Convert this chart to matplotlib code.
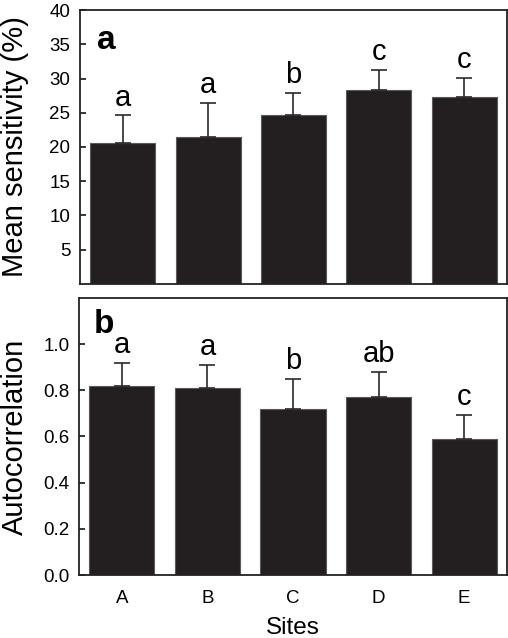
import numpy as np
import matplotlib
matplotlib.use("Agg")
import matplotlib.pyplot as plt

plt.rcParams['font.family'] = ['Liberation Sans', 'DejaVu Sans']

# data
sites = ['A', 'B', 'C', 'D', 'E']
sens_mean = [20.6, 21.5, 24.6, 28.35, 27.3]
sens_err = [4.0, 4.9, 3.3, 2.95, 2.8]
sens_letters = ['a', 'a', 'b', 'c', 'c']
auto_mean = [0.82, 0.81, 0.72, 0.77, 0.59]
auto_err = [0.10, 0.10, 0.13, 0.11, 0.105]
auto_letters = ['a', 'a', 'b', 'ab', 'c']

bar_color = '#231f20'
x = np.arange(len(sites))

fig = plt.figure(figsize=(5.08, 6.38), dpi=100)
ax1 = fig.add_axes([0.1575, 0.5549, 0.8405, 0.4294])
ax2 = fig.add_axes([0.1555, 0.0987, 0.8425, 0.4343])


def draw_panel(ax, means, errs, letters):
    zeros = np.zeros(len(means))
    ax.bar(x, means, width=0.76, color=bar_color, edgecolor='#5a5a5a', linewidth=0.8,
           yerr=[zeros, errs], capsize=6,
           error_kw=dict(ecolor='#2a2a2a', elinewidth=1.2, capthick=1.2))
    for xi, m, e, lab in zip(x, means, errs, letters):
        ax.annotate(lab, (xi, m + e), xytext=(0, 7), textcoords='offset points',
                    ha='center', va='baseline', fontsize=21)
    ax.set_xlim(-0.5, 4.5)
    for s in ax.spines.values():
        s.set_linewidth(1.3)
        s.set_color('#222222')
    ax.tick_params(axis='y', direction='in', length=4, width=1.1, pad=7, labelsize=13.5)


draw_panel(ax1, sens_mean, sens_err, sens_letters)
ax1.set_ylim(0, 40)
ax1.set_yticks(np.arange(5, 41, 5))
ax1.set_xticks([])
ax1.set_ylabel('Mean sensitivity (%)', fontsize=21)
ax1.yaxis.set_label_coords(-0.12, 0.5)
ax1.text(0.04, 0.858, 'a', transform=ax1.transAxes, fontsize=24, fontweight='bold',
         va='baseline')

draw_panel(ax2, auto_mean, auto_err, auto_letters)
ax2.set_ylim(0, 1.2)
ax2.set_yticks(np.arange(0, 1.01, 0.2))
ax2.set_yticklabels(['%.1f' % v for v in np.arange(0, 1.01, 0.2)])
ax2.set_xticks(x)
ax2.set_xticklabels(sites)
ax2.tick_params(axis='x', length=0, pad=11, labelsize=13.5)
ax2.set_ylabel('Autocorrelation', fontsize=21)
ax2.yaxis.set_label_coords(-0.118, 0.5)
ax2.set_xlabel('Sites', fontsize=17.5)
ax2.xaxis.set_label_coords(0.5, -0.152)
ax2.text(0.035, 0.874, 'b', transform=ax2.transAxes, fontsize=24, fontweight='bold',
         va='baseline')

fig.savefig('out.png', dpi=100)
